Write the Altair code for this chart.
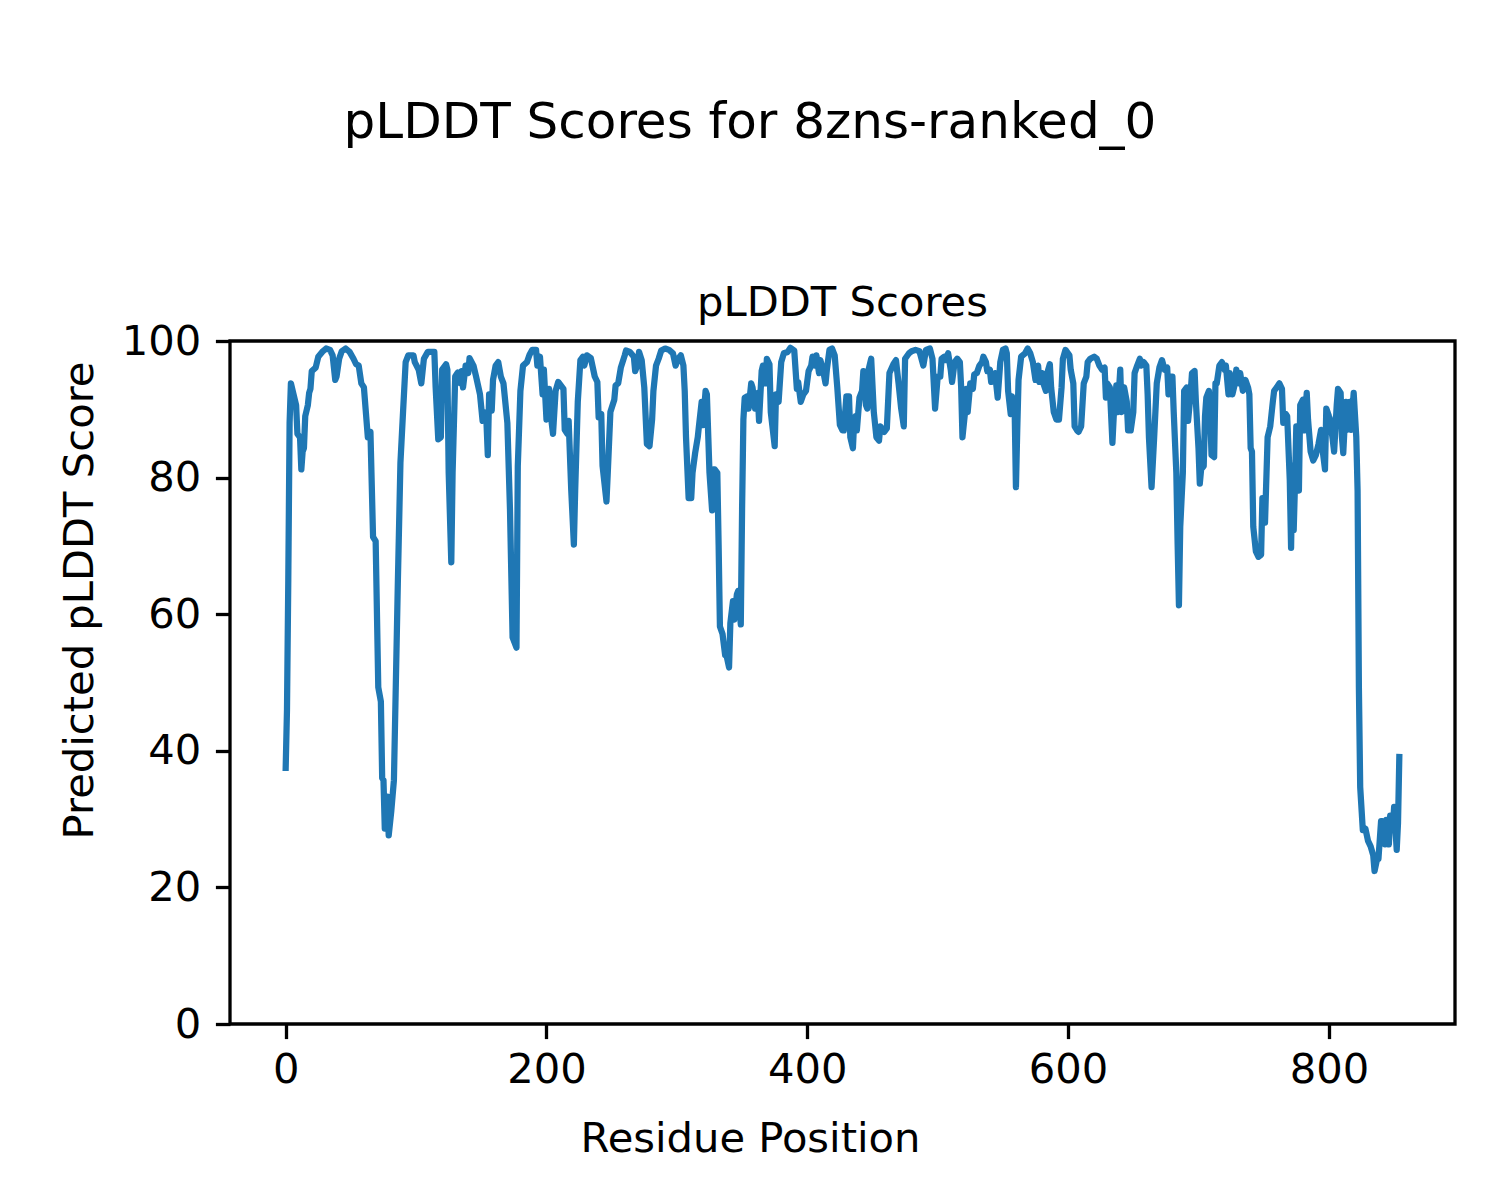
import altair as alt
import pandas as pd

suptitle = "pLDDT Scores for 8zns-ranked_0"
axes_title = "pLDDT Scores"
x_label = "Residue Position"
y_label = "Predicted pLDDT Score"
x_ticks = [0, 200, 400, 600, 800]
y_ticks = [0, 20, 40, 60, 80, 100]

residues = [
    0, 1, 2, 3, 4, 6, 8, 9, 11, 12, 13, 14, 15, 17, 18, 19, 20, 23, 25, 28, 31, 34, 36, 38, 39,
    41, 43, 46, 49, 52, 54, 56, 58, 60, 63, 65, 67, 69, 71, 73, 74, 75, 76, 77, 78, 79, 81, 83,
    86, 88, 90, 92, 94, 98, 99, 102, 104, 106, 109, 114, 115, 117, 119, 120, 123, 124, 125, 127,
    128, 130, 132, 134, 135, 136, 138, 140, 141, 144, 146, 149, 151, 152, 154, 155, 156, 158,
    159, 161, 163, 165, 167, 170, 172, 174, 177, 178, 180, 182, 185, 187, 189, 192, 193, 195,
    197, 198, 200, 202, 204, 205, 207, 209, 211, 213, 214, 216, 217, 219, 221, 222, 224, 226,
    228, 229, 231, 234, 237, 239, 240, 242, 243, 246, 247, 249, 252, 253, 255, 257, 260, 261,
    264, 267, 268, 270, 271, 273, 275, 277, 279, 281, 282, 284, 286, 288, 291, 294, 297, 299,
    301, 303, 305, 306, 307, 309, 311, 312, 314, 316, 317, 319, 320, 322, 323, 325, 327, 328,
    329, 331, 332, 333, 335, 337, 338, 340, 341, 343, 344, 346, 347, 349, 350, 351, 352, 354,
    355, 357, 358, 360, 362, 363, 365, 366, 368, 369, 371, 372, 375, 376, 378, 380, 382, 385,
    387, 390, 392, 393, 395, 397, 399, 401, 403, 404, 406, 407, 409, 410, 412, 414, 415, 417,
    419, 421, 423, 425, 427, 428, 430, 432, 433, 435, 436, 437, 438, 440, 442, 443, 445, 446,
    447, 449, 451, 453, 455, 456, 459, 461, 463, 466, 468, 470, 472, 474, 475, 478, 480, 483,
    486, 489, 491, 494, 496, 498, 500, 502, 503, 505, 506, 508, 510, 511, 513, 515, 517, 518,
    519, 521, 522, 523, 525, 527, 528, 530, 532, 534, 535, 537, 538, 540, 541, 543, 544, 546,
    548, 550, 552, 553, 554, 556, 557, 559, 560, 561, 562, 564, 567, 569, 571, 573, 575, 577,
    578, 580, 581, 583, 584, 586, 587, 589, 591, 593, 595, 596, 598, 601, 602, 604, 605, 607,
    608, 610, 612, 614, 615, 617, 620, 622, 624, 626, 628, 629, 630, 632, 634, 635, 637, 638,
    640, 641, 643, 645, 646, 648, 650, 651, 653, 655, 656, 658, 660, 661, 662, 664, 666, 668,
    670, 672, 674, 676, 677, 678, 680, 681, 683, 684, 685, 686, 688, 689, 691, 692, 694, 695,
    697, 698, 700, 701, 702, 704, 705, 706, 708, 709, 710, 712, 713, 714, 716, 718, 720, 721,
    723, 724, 726, 728, 729, 731, 732, 734, 736, 738, 739, 740, 741, 742, 744, 746, 748, 749,
    750, 751, 753, 755, 757, 758, 760, 762, 764, 765, 767, 768, 770, 771, 772, 773, 774, 775,
    777, 778, 780, 781, 783, 784, 786, 788, 790, 792, 794, 795, 797, 798, 800, 801, 803, 804,
    806, 807, 809, 810, 811, 813, 814, 816, 817, 819, 821, 822, 823, 824, 826, 828, 830, 832,
    834, 835, 837, 838, 840, 841, 843, 844, 846, 847, 849, 850, 852, 853, 854,
]

scores = [
    37.5, 46, 65, 88, 93.8, 92.2, 90.6, 86.4, 85.9, 81.2, 83.8, 84.3, 89.0, 90.6, 92.4, 93.0, 95.6, 96.1, 97.7, 98.4, 98.9, 98.7, 97.9, 94.3, 94.8,
    97.4, 98.5, 98.9, 98.4, 97.4, 96.6, 96.4, 93.8, 93.2, 85.9, 86.7, 71.3, 70.7, 49.3, 47.2, 36.0, 35.7, 28.6, 28.6, 33.3, 27.6, 31.2, 35.7,
    64.5, 82.2, 89.6, 96.9, 97.9, 97.9, 96.9, 95.8, 93.8, 97.4, 98.4, 98.4, 93.2, 85.6, 85.9, 95.8, 96.6, 95.8, 80.7, 67.6,
    80.7, 94.8, 95.4, 93.8, 95.6, 93.2, 96.4, 95.3, 97.5, 96.4, 94.8, 92.2, 88.3, 89.6, 88.0, 83.3, 92.2, 89.8,
    94.3, 96.4, 96.9, 94.8, 93.8, 88.0, 75.4, 56.6, 55.1, 81.7, 92.7, 96.4, 96.9, 98.0, 98.7, 98.7, 96.4, 97.7,
    92.2, 95.8, 88.5, 93.0, 88.0, 86.4, 92.7, 94.0, 93.5, 93.0, 87.0, 86.4, 88.3, 78.1, 70.2, 78.1, 91.1, 97.2,
    97.7, 96.4, 97.9, 97.5, 94.8, 94.0, 88.8, 89.3, 81.7, 76.5, 80.7, 89.6, 91.4, 93.5, 93.8, 96.1, 97.9, 98.6,
    98.4, 97.7, 95.6, 96.6, 98.4, 97.2, 93.2, 84.9, 84.6, 88.5, 92.7, 96.4, 97.4, 98.6, 98.9, 98.7, 98.2, 96.4,
    97.4, 97.9, 96.4, 92.7, 85.9, 77.0, 77.0, 80.7, 83.6, 85.9, 87.7, 91.1, 87.7, 92.7, 92.2, 80.7, 75.2, 81.2,
    81.2, 80.7, 70.2, 58.2, 57.1, 54.0, 54.0, 52.2, 58.7, 61.9, 59.2, 62.9, 63.4, 58.5, 75.4, 88.5, 91.7, 91.9,
    90.1, 93.8, 93.2, 90.1, 92.4, 88.3, 95.6, 96.4, 93.8, 97.4, 96.6, 89.6, 84.6, 92.2, 91.1, 96.9, 98.2, 98.4,
    99.0, 98.6, 93.0, 94.0, 91.1, 92.2, 92.7, 95.6, 96.4, 97.7, 96.4, 97.9, 95.3, 97.2, 95.8, 93.8, 95.8, 98.7,
    98.9, 97.9, 93.2, 87.7, 86.9, 86.9, 91.9, 91.9, 85.9, 84.3, 88.5, 89.0, 86.9, 91.7, 92.7, 95.6, 90.6, 90.1,
    95.8, 97.4, 89.6, 85.9, 85.4, 87.5, 86.7, 87.2, 95.3, 96.6, 97.2, 93.8, 90.1, 87.5, 97.4, 98.2, 98.5, 98.7,
    98.5, 96.4, 98.7, 98.9, 97.4, 90.1, 94.8, 94.8, 97.4, 97.7, 97.2, 98.2, 95.8, 94.0, 96.9, 97.4, 96.9, 93.2,
    85.9, 89.6, 93.0, 89.6, 93.8, 93.0, 95.1, 95.3, 96.4, 96.9, 97.7, 96.9, 95.6, 95.8, 94.0, 94.3, 95.3, 91.7,
    96.9, 98.7, 98.9, 98.2, 92.7, 89.3, 91.9, 90.1, 78.6, 86.9, 94.3, 97.7, 98.2, 98.9, 98.2, 96.9, 94.3, 96.4,
    94.0, 95.3, 93.8, 92.7, 95.3, 96.6, 93.2, 89.6, 88.5, 88.5, 93.2, 97.4, 98.7, 97.9, 95.8, 93.8, 87.5, 86.9,
    86.7, 87.5, 93.8, 94.8, 96.9, 97.4, 97.7, 97.4, 96.4, 95.8, 96.1, 91.7, 93.8, 93.2, 85.1, 89.0, 93.5, 89.6,
    95.8, 89.6, 93.2, 91.1, 86.9, 86.9, 89.6, 95.3, 96.4, 97.4, 96.4, 96.9, 96.4, 92.2, 85.9, 78.6, 85.9, 93.8,
    96.1, 97.2, 95.8, 96.1, 92.2, 94.8, 94.8, 89.6, 80.7, 70.2, 61.3, 72.8, 80.7, 92.7, 93.2, 88.3, 92.4, 95.3,
    95.6, 91.1, 84.3, 79.1, 81.2, 81.7, 89.0, 91.7, 92.7, 89.0, 83.3, 83.0, 93.8, 93.8, 96.4, 96.9, 95.8, 96.4,
    92.2, 95.3, 92.2, 93.8, 95.8, 93.8, 95.3, 92.7, 94.3, 93.2, 92.2, 84.3, 83.8, 72.8, 69.2, 68.4, 68.7, 77.0,
    76.5, 73.4, 85.9, 87.5, 91.1, 92.7, 93.2, 93.8, 93.0, 88.0, 89.3, 89.0, 79.6, 69.7, 81.7, 72.3, 79.1, 87.5,
    78.1, 90.6, 91.4, 86.9, 92.4, 88.5, 83.8, 82.5, 83.3, 84.9, 87.0, 84.3, 81.2, 90.1, 89.0, 88.5, 85.4, 83.8,
    90.6, 93.0, 92.4, 85.9, 83.6, 91.1, 87.0, 91.1, 87.0, 92.4, 85.9, 78.1, 49.3, 34.7, 28.4, 28.6, 26.8, 26.0,
    24.7, 22.4, 24.2, 24.2, 29.7, 29.7, 26.3, 29.9, 26.3, 30.5, 28.4, 31.8, 25.5, 29.4, 39.1,
]

df = pd.DataFrame({"residue": residues, "score": scores})
titles = pd.DataFrame({"t": [suptitle, axes_title], "kind": ["sup", "axes"]})

FONT = "DejaVu Sans"
FS = 41.67

line = alt.Chart(df).mark_line(
    color="#1f77b4", strokeWidth=6.25, strokeJoin="round", strokeCap="square"
).encode(
    x=alt.X(
        "residue:Q",
        scale=alt.Scale(domain=[-42.7, 896.7], nice=False, zero=False),
        axis=alt.Axis(
            values=x_ticks, format="d", title=x_label, labelPadding=11,
            titleX=520, titleY=127, titleAlign="center", titleBaseline="alphabetic",
            titleAnchor="start",
        ),
    ),
    y=alt.Y(
        "score:Q",
        scale=alt.Scale(domain=[0, 100], nice=False),
        axis=alt.Axis(
            values=y_ticks, format="d", title=y_label,
            titleX=-138, titleY=259, titleAngle=270, titleAlign="center",
            titleBaseline="alphabetic", titleAnchor="start",
        ),
    ),
)

sup = alt.Chart(titles).transform_filter(alt.datum.kind == "sup").mark_text(
    font=FONT, fontSize=50, color="black", align="center", baseline="alphabetic"
).encode(text="t:N", x=alt.value(520), y=alt.value(-203))

ax_title = alt.Chart(titles).transform_filter(alt.datum.kind == "axes").mark_text(
    font=FONT, fontSize=FS, color="black", align="center", baseline="alphabetic"
).encode(text="t:N", x=alt.value(612.5), y=alt.value(-25))

chart = alt.layer(line, sup, ax_title).properties(
    width=1225,
    height=683,
    padding={"left": 222, "top": 333, "right": 20, "bottom": 160},
    autosize=alt.AutoSizeParams(type="none"),
    background="white",
).configure_view(
    stroke="black", strokeWidth=3.3
).configure_axis(
    grid=False, domain=False,
    ticks=True, tickSize=14.6, tickWidth=3.3, tickColor="black",
    labelFont=FONT, labelFontSize=FS, labelColor="black", labelPadding=14.6,
    titleFont=FONT, titleFontSize=FS, titleFontWeight="normal", titleColor="black",
    labelFlush=False,
)

chart.save("out.html", embed_options={"renderer": "svg", "actions": False})
